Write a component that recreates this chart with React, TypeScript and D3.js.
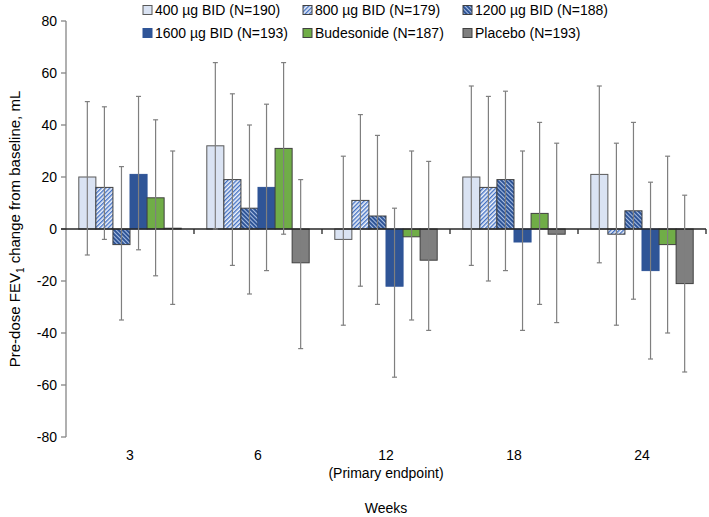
import React from "react";
import * as d3 from "d3";

const categories = ["3", "6", "12", "18", "24"];
const subLabels = ["", "", "(Primary endpoint)", "", ""];
const seriesNames = [
  "400 µg BID (N=190)",
  "800 µg BID (N=179)",
  "1200 µg BID (N=188)",
  "1600 µg BID (N=193)",
  "Budesonide (N=187)",
  "Placebo (N=193)",
];
const mean400 = [20, 32, -4, 20, 21];
const upper400 = [49, 64, 28, 55, 55];
const lower400 = [-10, 0, -37, -14, -13];
const mean800 = [16, 19, 11, 16, -2];
const upper800 = [47, 52, 44, 51, 33];
const lower800 = [-4, -14, -22, -20, -37];
const mean1200 = [-6, 8, 5, 19, 7];
const upper1200 = [24, 40, 36, 53, 41];
const lower1200 = [-35, -25, -29, -16, -27];
const mean1600 = [21, 16, -22, -5, -16];
const upper1600 = [51, 48, 8, 30, 18];
const lower1600 = [-8, -16, -57, -39, -50];
const meanBud = [12, 31, -3, 6, -6];
const upperBud = [42, 64, 30, 41, 28];
const lowerBud = [-18, -2, -35, -29, -40];
const meanPla = [0.3, -13, -12, -2, -21];
const upperPla = [30, 19, 26, 33, 13];
const lowerPla = [-29, -46, -39, -36, -55];
const yTicks = [80, 60, 40, 20, 0, -20, -40, -60, -80];

const means = [mean400, mean800, mean1200, mean1600, meanBud, meanPla];
const uppers = [upper400, upper800, upper1200, upper1600, upperBud, upperPla];
const lowers = [lower400, lower800, lower1200, lower1600, lowerBud, lowerPla];
const fills = ["#dae3f3", "url(#hatch800)", "url(#hatch1200)", "#2f5597", "#70ad47", "#7f7f7f"];
const strokes = ["#595959", "#404040", "#404040", "#2f5597", "#404040", "#404040"];

const W = 709;
const H = 517;
const left = 66;
const right = 706;
const top = 21;
const bottom = 437;
const font = "'Liberation Sans', Arial, sans-serif";

export default function App() {
  const x = d3.scaleBand<string>().domain(categories).range([left, right]).padding(0);
  const xs = d3
    .scaleBand<number>()
    .domain(d3.range(seriesNames.length))
    .range([0, x.bandwidth()])
    .paddingInner(0)
    .paddingOuter(0.75);
  const y = d3.scaleLinear().domain([-80, 80]).range([bottom, top]);
  const bw = xs.bandwidth();
  const cap = 2.5;

  const legendCols = [143, 303, 463];
  const legendRows = [10, 33];

  return (
    <svg
      width={W}
      height={H}
      style={{ position: "absolute", left: 0, top: 0, background: "#fff" }}
      fontFamily={font}
    >
      <defs>
        <pattern id="hatch800" patternUnits="userSpaceOnUse" width={3} height={3} patternTransform="rotate(45)">
          <rect width={3} height={3} fill="#f2f5fb" />
          <rect x={0} y={0} width={1.4} height={3} fill="#4472c4" />
        </pattern>
        <pattern id="hatch1200" patternUnits="userSpaceOnUse" width={3} height={3} patternTransform="rotate(-45)">
          <rect width={3} height={3} fill="#2f5597" />
          <rect x={0} y={0} width={1} height={3} fill="#a9bfe4" />
        </pattern>
      </defs>

      {/* bars */}
      {means.map((arr, s) =>
        arr.map((v, i) => {
          const bx = (x(categories[i]) as number) + (xs(s) as number);
          const y0 = y(Math.max(0, v));
          const h = Math.abs(y(v) - y(0));
          return (
            <rect
              key={`b${s}-${i}`}
              x={bx}
              y={y0}
              width={bw}
              height={h}
              fill={fills[s]}
              stroke={strokes[s]}
              strokeWidth={1}
            />
          );
        })
      )}

      {/* y axis */}
      <line x1={left} x2={left} y1={top} y2={bottom} stroke="#868686" strokeWidth={1.3} />
      {yTicks.map((t) => (
        <g key={`yt${t}`}>
          <line x1={left - 5} x2={left} y1={y(t)} y2={y(t)} stroke="#868686" strokeWidth={1.3} />
          <text x={left - 9} y={y(t)} dy="0.35em" textAnchor="end" fontSize={14} fill="#000">
            {t}
          </text>
        </g>
      ))}

      {/* x axis at zero */}
      <line x1={left - 5} x2={right} y1={y(0)} y2={y(0)} stroke="#262626" strokeWidth={1.3} />
      {categories.map((c) => (
        <line
          key={`xt${c}`}
          x1={(x(c) as number) + x.bandwidth()}
          x2={(x(c) as number) + x.bandwidth()}
          y1={y(0)}
          y2={y(0) + 5}
          stroke="#262626"
          strokeWidth={1.3}
        />
      ))}

      {/* error bars */}
      {means.map((arr, s) =>
        arr.map((v, i) => {
          const cx = (x(categories[i]) as number) + (xs(s) as number) + bw / 2;
          const yu = y(uppers[s][i]);
          const yl = y(lowers[s][i]);
          return (
            <g key={`e${s}-${i}`} stroke="#7f7f7f" strokeWidth={1.2}>
              <line x1={cx} x2={cx} y1={yu} y2={yl} />
              <line x1={cx - cap} x2={cx + cap} y1={yu} y2={yu} />
              <line x1={cx - cap} x2={cx + cap} y1={yl} y2={yl} />
            </g>
          );
        })
      )}

      {/* category labels */}
      {categories.map((c, i) => {
        const cx = (x(c) as number) + x.bandwidth() / 2;
        return (
          <g key={`xl${c}`}>
            <text x={cx} y={455} dy="0.35em" textAnchor="middle" fontSize={14} fill="#000">
              {c}
            </text>
            {subLabels[i] && (
              <text x={cx} y={473} dy="0.35em" textAnchor="middle" fontSize={14} fill="#000">
                {subLabels[i]}
              </text>
            )}
          </g>
        );
      })}

      <text x={(left + right) / 2} y={508} dy="0.35em" textAnchor="middle" fontSize={14} fill="#000">
        Weeks
      </text>

      <text
        transform={`translate(15, ${(top + bottom) / 2}) rotate(-90)`}
        dy="0.35em"
        textAnchor="middle"
        fontSize={15}
        fill="#000"
      >
        Pre-dose FEV<tspan fontSize={10} dy="4">1</tspan>
        <tspan dy="-4"> change from baseline, mL</tspan>
      </text>

      {/* legend */}
      {seriesNames.map((n, k) => {
        const lx = legendCols[k % 3];
        const ly = legendRows[Math.floor(k / 3)];
        return (
          <g key={`lg${k}`}>
            <rect x={lx} y={ly - 4.5} width={9} height={9} fill={fills[k]} stroke={strokes[k]} strokeWidth={1} />
            <text x={lx + 12} y={ly} dy="0.35em" fontSize={14} fill="#000">
              {n}
            </text>
          </g>
        );
      })}
    </svg>
  );
}
